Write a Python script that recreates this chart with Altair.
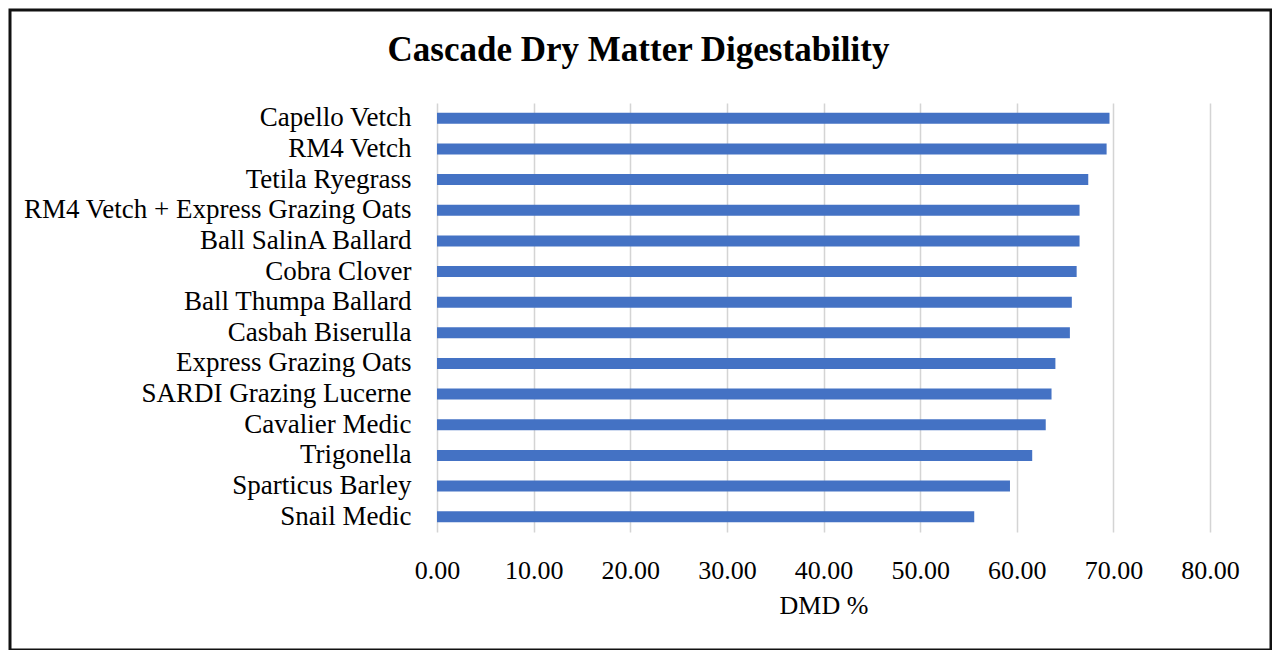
import altair as alt
import pandas as pd

categories = [
    "Capello Vetch",
    "RM4 Vetch",
    "Tetila Ryegrass",
    "RM4 Vetch + Express Grazing Oats",
    "Ball SalinA Ballard",
    "Cobra Clover",
    "Ball Thumpa Ballard ",
    "Casbah Biserulla",
    "Express Grazing Oats",
    "SARDI Grazing Lucerne",
    "Cavalier Medic",
    "Trigonella",
    "Sparticus Barley",
    "Snail Medic",
]
dmd_values = [69.6, 69.3, 67.4, 66.5, 66.5, 66.2, 65.7, 65.5, 64.0, 63.6, 63.0, 61.6, 59.3, 55.6]
x_ticks = [0, 10, 20, 30, 40, 50, 60, 70, 80]

FONT = "Liberation Serif"

df = pd.DataFrame({"variety": categories, "dmd": dmd_values})

bars = alt.Chart(df).mark_bar(size=11, color="#4472C4").encode(
    x=alt.X(
        "dmd:Q",
        scale=alt.Scale(domain=[0, 80], nice=False, zero=True),
        axis=alt.Axis(
            values=x_ticks,
            format=".2f",
            title="DMD %",
            grid=True,
            gridColor="#d4d4d4",
            gridWidth=1.5,
            domain=False,
            ticks=False,
            tickSize=0,
            labelFlush=False,
            labelPadding=25,
            labelFont=FONT,
            labelFontSize=26,
            labelColor="#000000",
            titleFont=FONT,
            titleFontSize=26,
            titleFontWeight="normal",
            titleColor="#000000",
            titleBaseline="alphabetic",
            titleY=81,
        ),
    ),
    y=alt.Y(
        "variety:N",
        sort=categories,
        scale=alt.Scale(paddingInner=0, paddingOuter=0),
        axis=alt.Axis(
            title=None,
            domain=False,
            ticks=False,
            tickSize=0,
            grid=False,
            labelPadding=26,
            labelFont=FONT,
            labelFontSize=27,
            labelColor="#000000",
            labelLimit=0,
        ),
    ),
)

border_df = pd.DataFrame({"b": [1]})
border = alt.Chart(border_df).mark_rect(
    filled=False, stroke="#111111", strokeWidth=3
).encode(
    x=alt.value(-427),
    x2=alt.value(834),
    y=alt.value(-93),
    y2=alt.value(547),
)

chart = alt.layer(border, bars).properties(
    width=773,
    height=429,
    padding={"left": 429, "top": 95, "right": 62, "bottom": 118},
    autosize=alt.AutoSizeParams(type="none"),
    title=alt.Title(
        "Cascade Dry Matter Digestability",
        font=FONT,
        fontSize=35,
        fontWeight="bold",
        color="#000000",
        anchor="middle",
        baseline="alphabetic",
        dx=-185,
        offset=-87,
    ),
).configure(background="white").configure_view(stroke=None)

chart.save("out.html", embed_options={"renderer": "svg", "actions": False})
